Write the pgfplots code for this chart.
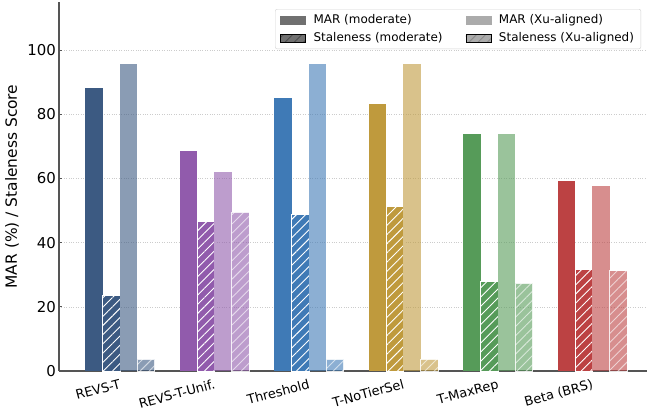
\documentclass[border=0pt]{standalone}
\usepackage{pgfplots}
\pgfplotsset{compat=1.18}
\usepackage{fontspec}
\setmainfont{DejaVu Sans}
\usetikzlibrary{patterns.meta}

\definecolor{cA}{HTML}{3C5A82}
\definecolor{cB}{HTML}{915BAC}
\definecolor{cC}{HTML}{3F7AB6}
\definecolor{cD}{HTML}{BF9A3D}
\definecolor{cE}{HTML}{569B59}
\definecolor{cF}{HTML}{BC4243}
\definecolor{legdark}{HTML}{707070}
\definecolor{leglight}{HTML}{ABABAB}
\definecolor{spine}{HTML}{555555}

\tikzset{
  hatchw/.style={postaction={pattern={Lines[angle=45,distance=6.5bp,line width=0.9bp]},pattern color=white}},
}
\pgfplotsset{
  barA/.style={ybar, bar width=0.183, bar shift=-0.2745, fill=#1, draw=none, forget plot},
  barB/.style={ybar, bar width=0.183, bar shift=-0.0915, fill=#1, draw=white, line width=0.8bp, hatchw, forget plot},
  barC/.style={ybar, bar width=0.183, bar shift=0.0915, fill=#1, fill opacity=0.6, draw=none, forget plot},
  barD/.style={ybar, bar width=0.183, bar shift=0.2745, fill=#1, fill opacity=0.6, draw=white, draw opacity=0.6, line width=0.8bp, hatchw, forget plot},
}

\begin{document}
\begin{tikzpicture}
\begin{axis}[
  at={(0,0)}, anchor=south west,
  scale only axis, width=588bp, height=369bp,
  xmin=-0.645, xmax=5.577, ymin=0, ymax=115,
  axis x line*=bottom, axis y line*=left,
  axis line style={spine, line width=1.3bp, -},
  xtick={0,1,2,3,4,5},
  xticklabels={REVS-T,REVS-T-Unif.,Threshold,T-NoTierSel,T-MaxRep,Beta (BRS)},
  x tick label style={rotate=15, anchor=north east, font=\fontsize{13}{15}\selectfont, inner sep=0pt, yshift=-7bp, xshift=-3bp},
  ytick={0,20,40,60,80,100},
  y tick label style={font=\fontsize{15}{17}\selectfont, anchor=east, inner sep=0pt, xshift=-3bp},
  tick align=inside, major tick length=3.5bp,
  x tick style={draw=none},
  y tick style={spine, line width=0.8bp},
  ymajorgrids, grid style={dotted, gray!40, line width=0.6bp},
  ylabel={MAR (\%) / Staleness Score},
  ylabel style={at={(axis description cs:-0.080,0.5)}, anchor=center, font=\fontsize{15.5}{18}\selectfont},
  /pgf/number format/assume math mode=true,
  legend columns=2,
  legend cell align=left,
  legend style={at={(axis description cs:0.990,0.981)}, anchor=north east,
    draw=gray!35, rounded corners=2bp, fill=white, font=\fontsize{12}{14}\selectfont,
    inner xsep=5bp, inner ysep=3.5bp, row sep=3.5bp,
    /tikz/every odd column/.append style={column sep=6bp},
    /tikz/every even column/.append style={column sep=21bp}},
]
\addlegendimage{legend image code/.code={\fill[legdark, sharp corners] (0bp,-3.8bp) rectangle (25bp,3.8bp);}}
\addlegendentry{MAR (moderate)}
\addlegendimage{legend image code/.code={\fill[leglight, sharp corners] (0bp,-3.8bp) rectangle (25bp,3.8bp);}}
\addlegendentry{MAR (Xu-aligned)}
\addlegendimage{legend image code/.code={\fill[legdark, sharp corners] (0bp,-3.8bp) rectangle (25bp,3.8bp); \fill[sharp corners, pattern={Lines[angle=45,distance=6.5bp,line width=0.9bp]}, pattern color=black!70] (0bp,-3.8bp) rectangle (25bp,3.8bp);}}
\addlegendentry{Staleness (moderate)}
\addlegendimage{legend image code/.code={\fill[leglight, sharp corners] (0bp,-3.8bp) rectangle (25bp,3.8bp); \fill[sharp corners, pattern={Lines[angle=45,distance=6.5bp,line width=0.9bp]}, pattern color=black!45] (0bp,-3.8bp) rectangle (25bp,3.8bp);}}
\addlegendentry{Staleness (Xu-aligned)}

% MAR (moderate)
\addplot[barA=cA] coordinates {(0,88.1)};
\addplot[barA=cB] coordinates {(1,68.5)};
\addplot[barA=cC] coordinates {(2,85.0)};
\addplot[barA=cD] coordinates {(3,83.2)};
\addplot[barA=cE] coordinates {(4,73.8)};
\addplot[barA=cF] coordinates {(5,59.2)};
% Staleness (moderate)
\addplot[barB=cA] coordinates {(0,23.5)};
\addplot[barB=cB] coordinates {(1,46.5)};
\addplot[barB=cC] coordinates {(2,48.8)};
\addplot[barB=cD] coordinates {(3,51.2)};
\addplot[barB=cE] coordinates {(4,27.8)};
\addplot[barB=cF] coordinates {(5,31.8)};
% MAR (Xu-aligned)
\addplot[barC=cA] coordinates {(0,95.6)};
\addplot[barC=cB] coordinates {(1,62.0)};
\addplot[barC=cC] coordinates {(2,95.6)};
\addplot[barC=cD] coordinates {(3,95.6)};
\addplot[barC=cE] coordinates {(4,73.8)};
\addplot[barC=cF] coordinates {(5,57.6)};
% Staleness (Xu-aligned)
\addplot[barD=cA] coordinates {(0,3.6)};
\addplot[barD=cB] coordinates {(1,49.4)};
\addplot[barD=cC] coordinates {(2,3.6)};
\addplot[barD=cD] coordinates {(3,3.6)};
\addplot[barD=cE] coordinates {(4,27.4)};
\addplot[barD=cF] coordinates {(5,31.2)};
\end{axis}
\pgfresetboundingbox
\useasboundingbox (-59bp,-39bp) rectangle (588bp,371bp);
\end{tikzpicture}
\end{document}
